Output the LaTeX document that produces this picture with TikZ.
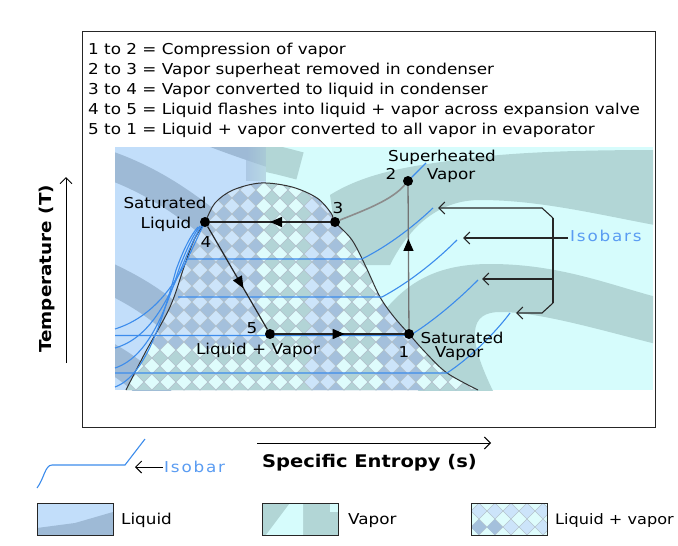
\documentclass[tikz,border=0pt]{standalone}
\usepackage{fontspec}
\setmainfont{DejaVu Sans}[FakeStretch=1.12]
\usetikzlibrary{arrows.meta,decorations.markings}
\definecolor{liqL}{HTML}{C2DEFA}
\definecolor{liqD}{HTML}{9EBAD6}
\definecolor{vapL}{HTML}{D6FCFC}
\definecolor{vapD}{HTML}{B2D6D6}
\definecolor{cell00}{HTML}{CCE4FA}
\definecolor{cell01}{HTML}{DEFCFC}
\definecolor{cell10}{HTML}{A4C0DC}
\definecolor{cell11}{HTML}{B2D4D6}
\definecolor{cellln}{HTML}{B4C2CC}
\definecolor{isob}{HTML}{3C8CEC}
\definecolor{isotxt}{HTML}{5A9CF2}
\definecolor{domeln}{HTML}{333333}
\tikzset{
  txt/.style={font=\fontsize{15}{17}\selectfont, inner sep=0pt},
  lbl/.style={txt, anchor=base},
  listtxt/.style={txt, anchor=base west},
  bluetxt/.style={font=\addfontfeatures{LetterSpace=12}\fontsize{15}{17}\selectfont, inner sep=0pt, anchor=base west, text=isotxt},
  ptdot/.style={circle, fill=black, inner sep=0pt, minimum size=10pt},
  isoline/.style={draw=isob, line width=1.1pt},
  cycline/.style={draw=black!85, line width=1.5pt},
  grayline/.style={draw=black!55, line width=1.3pt},
  midarrow/.style={postaction={decorate}, decoration={markings, mark=at position #1 with {\arrow[black]{Triangle[length=12pt,width=10pt]}}}},
  openarr/.style={-{Straight Barb[length=6pt,width=12pt]}},
  brk/.style={draw=black!85, line width=1.1pt},
  legbox/.style={draw=black!85, line width=1pt},
}
\def\domepath{plot[smooth, tension=0.55] coordinates {(126,390) (145,353) (170,307) (184,267) (194,240) (205,222) (215,203) (233,190) (261,183) (292,187) (317,198) (331,213) (335,222) (352,240) (366,267) (380,297) (394,317) (409,334) (426,353) (447,373) (478,390)}}
\begin{document}
\begin{tikzpicture}[x=1pt,y=-1pt]
\useasboundingbox (0,0) rectangle (678,546);
\fill[white] (0,0) rectangle (678,546);

% ---------- liquid background ----------
\begin{scope}
  \clip (115,147) rectangle (266,390);
  \fill[liqL] (115,147) rectangle (266,390);
  \draw[liqD, line width=28pt] (200,128) .. controls (230,140) and (260,150) .. (290,160);
  \draw[liqD, line width=28pt] (100,162) .. controls (140,175) and (175,195) .. (215,228);
  \draw[liqD, line width=30pt] (100,274) .. controls (135,290) and (160,305) .. (190,335);
  \draw[liqD, line width=28pt] (100,352) .. controls (125,365) and (145,380) .. (165,405);
  \shade[left color=liqD, right color=vapD, opacity=0.6] (246,147) rectangle (266,180);
\end{scope}

% ---------- vapor background ----------
\begin{scope}
  \clip (266,147) rectangle (653,390);
  \fill[vapL] (266,147) rectangle (653,390);
  \draw[vapD, line width=28pt] (250,155) .. controls (270,158) and (285,162) .. (300,166);
  \fill[vapD] (330,195) .. controls (370,170) and (420,165) .. (470,158) .. controls (520,152) and (580,150) .. (660,150) -- (660,226) .. controls (600,215) and (540,200) .. (480,200) .. controls (440,200) and (410,225) .. (390,265) -- (340,265) -- cycle;
  \fill[vapD] (385,310) .. controls (410,280) and (440,264) .. (490,264) .. controls (560,264) and (610,285) .. (660,298) -- (660,345) .. controls (600,330) and (540,312) .. (500,312) .. controls (470,312) and (465,335) .. (495,395) -- (420,395) -- cycle;
\end{scope}

% ---------- two-phase dome (checkered) ----------
\begin{scope}
  \clip \domepath -- cycle;
  \fill[cell10] (115,170) rectangle (490,395);
  \foreach \a in {0,...,46}{
    \pgfmathtruncatemacro\pp{mod(\a,2)}
    \pgfmathsetmacro\xc{120+8*\a}
    \foreach \b in {0,...,14}{
      \pgfmathsetmacro\yc{174+16*\b+8*\pp}
      \pgfmathtruncatemacro\pl{(\yc>345 && \xc<300) ? 1 : ((\xc<257) ? 0 : ((\xc<306) ? 1 : ((\xc<338) ? 0 : ((\xc<377) ? 1 : ((\xc<420) ? 0 : 1)))))}
      \filldraw[fill=cell\pp\pl, draw=cellln, line width=0.4pt] (\xc-8,\yc) -- (\xc,\yc-8) -- (\xc+8,\yc) -- (\xc,\yc+8) -- cycle;
    }
  }
\end{scope}
\draw[domeln, line width=1pt] \domepath;

% ---------- isobars ----------
\coordinate (c1a) at (115,329); \coordinate (c1b) at (204,224);
\coordinate (c2a) at (115,348); \coordinate (c2b) at (202,225);
\coordinate (c3a) at (115,368); \coordinate (c3b) at (200,226);
\coordinate (c4a) at (115,387); \coordinate (c4b) at (198,227);
\draw[isoline] (c1a) .. controls (150,318) and (172,290) .. (188,258) .. controls (195,243) and (200,232) .. (c1b);
\draw[isoline] (c2a) .. controls (150,338) and (168,300) .. (184,262) .. controls (191,245) and (197,233) .. (c2b);
\draw[isoline] (c3a) .. controls (148,357) and (165,312) .. (180,266) .. controls (188,246) and (194,234) .. (c3b);
\draw[isoline] (c4a) .. controls (145,376) and (162,322) .. (176,270) .. controls (184,248) and (191,235) .. (c4b);
\coordinate (h1a) at (188,259); \coordinate (h1b) at (362,259); \coordinate (h1c) at (433,208);
\coordinate (h2a) at (178,297); \coordinate (h2b) at (382,297); \coordinate (h2c) at (457,240);
\coordinate (h3a) at (115,335.5); \coordinate (h3b) at (410,335.5); \coordinate (h3c) at (478,280);
\coordinate (h4a) at (115,373); \coordinate (h4b) at (447,373); \coordinate (h4c) at (510,313);
\draw[isoline] (h1a) -- (h1b) .. controls (390,245) and (415,225) .. (h1c);
\draw[isoline] (h2a) -- (h2b) .. controls (410,282) and (437,260) .. (h2c);
\draw[isoline] (h3a) -- (h3b) .. controls (435,320) and (460,298) .. (h3c);
\draw[isoline] (h4a) -- (h4b) .. controls (470,358) and (495,333) .. (h4c);

% ---------- cycle points ----------
\node[ptdot] (p1) at (409,334) {};
\node[ptdot] (p2) at (408,181) {};
\node[ptdot] (p3) at (335,222) {};
\node[ptdot] (p4) at (205,222) {};
\node[ptdot] (p5) at (270,334) {};
\coordinate (d0) at (426,163);
\draw[isoline] (p2) -- (d0);

\draw[cycline, midarrow=0.5] (p3) -- (p4);
\draw[cycline, line width=1.2pt, midarrow=0.6] (p4) -- (p5);
\draw[cycline, midarrow=0.54] (p5) -- (p1);
\draw[grayline, midarrow=0.63] (p1) -- (p2);
\draw[grayline, line width=1.6pt, draw=black!45] (p3) .. controls (365,210) and (392,200) .. (p2);

% ---------- labels in diagram ----------
\node[lbl] (satl1) at (165,208) {Saturated};
\node[lbl] (satl2) at (166,228.5) {Liquid};
\node[lbl] (n4) at (206,247) {4};
\node[lbl] (n3) at (338,213) {3};
\node[lbl] (n2) at (391,179) {2};
\node[lbl] (sh1) at (442,161) {Superheated};
\node[lbl] (sh2) at (451,179) {Vapor};
\node[lbl] (sv1) at (462,343) {Saturated};
\node[lbl] (sv2) at (459,357.5) {Vapor};
\node[lbl] (n1) at (404,357.5) {1};
\node[lbl] (n5) at (252,333) {5};
\node[lbl] (lv) at (258,354) {Liquid + Vapor};

% ---------- isobar bracket ----------
\node[bluetxt] (isolab) at (570,241) {Isobars};
\coordinate (bT) at (553,218); \coordinate (bTc) at (542,208); \coordinate (a1) at (438,208);
\coordinate (bB) at (553,303); \coordinate (bBc) at (542,313); \coordinate (a4) at (516,313);
\coordinate (bM) at (553,279); \coordinate (a3) at (482,279);
\coordinate (bL) at (568,238); \coordinate (a2) at (463,238);
\draw[brk] (bT) -- (bB);
\draw[brk, openarr] (bT) -- (bTc) -- (a1);
\draw[brk, openarr] (bB) -- (bBc) -- (a4);
\draw[brk, openarr] (bM) -- (a3);
\draw[brk, openarr] (bL) -- (a2);

% ---------- frame and list ----------
\draw[black!85, line width=1pt] (82,31) rectangle (655,427);
\node[listtxt] (t1) at (88,54) {1 to 2 = Compression of vapor};
\node[listtxt] (t2) at (88,74) {2 to 3 = Vapor superheat removed in condenser};
\node[listtxt] (t3) at (88,94) {3 to 4 = Vapor converted to liquid in condenser};
\node[listtxt] (t4) at (88,114) {4 to 5 = Liquid flashes into liquid + vapor across expansion valve};
\node[listtxt] (t5) at (88,134) {5 to 1 = Liquid + vapor converted to all vapor in evaporator};

% ---------- axes ----------
\coordinate (tA) at (66,363); \coordinate (tB) at (66,177);
\draw[black, line width=1pt, openarr] (tA) -- (tB);
\node[font=\bfseries\fontsize{16.4}{18}\selectfont, inner sep=0pt, rotate=90, anchor=base west] (tlab) at (51,353) {Temperature (T)};
\coordinate (sA) at (257,443); \coordinate (sB) at (491,443);
\draw[black, line width=1pt, openarr] (sA) -- (sB);
\node[font=\bfseries\fontsize{17.4}{19}\selectfont, inner sep=0pt, anchor=base west] (slab) at (262,467) {Specific Entropy (s)};

% ---------- isobar legend ----------
\coordinate (il0) at (37,488); \coordinate (il1) at (52,465); \coordinate (il2) at (125,465); \coordinate (il3) at (145,439);
\draw[isoline] (il0) .. controls (44,479) and (45,465) .. (il1) -- (il2) -- (il3);
\node[bluetxt] (isolab2) at (164,472) {Isobar};
\coordinate (ia) at (163,467); \coordinate (ib) at (135,467);
\draw[black, line width=1pt, openarr] (ia) -- (ib);

% ---------- legend boxes ----------
\begin{scope}
  \clip (37,503) rectangle (113,535);
  \fill[liqL] (37,503) rectangle (113,535);
  \fill[liqD] (37,528) -- (75,523) -- (113,512) -- (113,535) -- (37,535) -- cycle;
\end{scope}
\draw[legbox] (37,503) rectangle (113,535);
\node[txt, anchor=base west] (lgl) at (121,524) {Liquid};

\begin{scope}
  \clip (262,503) rectangle (338,535);
  \fill[vapD] (262,503) rectangle (338,535);
  \fill[vapL] (266,535) -- (290,503) -- (303,503) -- (303,535) -- cycle;
  \fill[vapL] (330,503) rectangle (338,512);
\end{scope}
\draw[legbox] (262,503) rectangle (338,535);
\node[txt, anchor=base west] (lgv) at (348,524) {Vapor};

\begin{scope}
  \clip (471,503) rectangle (547,535);
  \fill[cell00] (471,503) rectangle (547,535);
  \foreach \a in {0,...,10}{
    \pgfmathtruncatemacro\pp{mod(\a,2)}
    \pgfmathsetmacro\xc{471+8*\a}
    \foreach \b in {0,...,3}{
      \pgfmathsetmacro\yc{503+16*\b+8*\pp}
      \pgfmathtruncatemacro\pl{(\yc>525 && \xc<500) ? 1 : 0}
      \ifnum\pp=0
        \filldraw[fill=cell01, draw=cellln, line width=0.4pt] (\xc-8,\yc) -- (\xc,\yc-8) -- (\xc+8,\yc) -- (\xc,\yc+8) -- cycle;
      \else
        \ifnum\pl=1
          \fill[cell10] (\xc-8,\yc) -- (\xc,\yc-8) -- (\xc+8,\yc) -- (\xc,\yc+8) -- cycle;
        \fi
      \fi
    }
  }
\end{scope}
\draw[legbox] (471,503) rectangle (547,535);
\node[font=\fontsize{14.4}{17}\selectfont, inner sep=0pt, anchor=base west] (lglv) at (555,524) {Liquid + vapor};
\end{tikzpicture}
\end{document}
